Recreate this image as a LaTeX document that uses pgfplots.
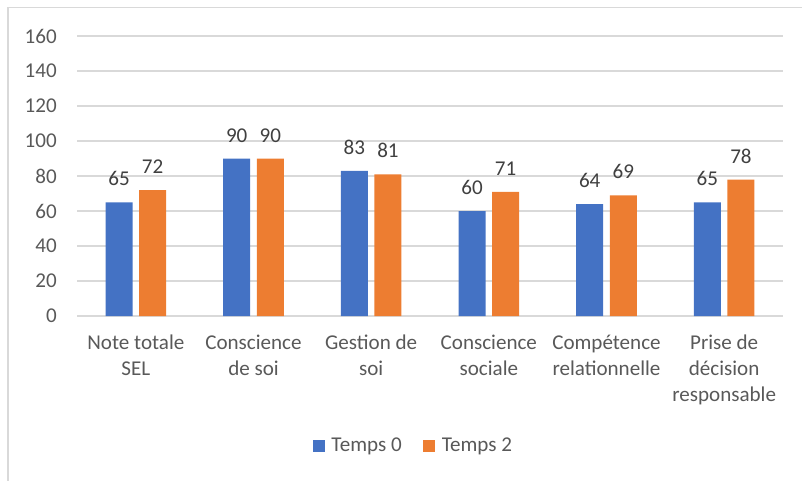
\documentclass[border=0pt]{standalone}
\usepackage{pgfplots}
\pgfplotsset{compat=1.18}
\usepackage{fontspec}
\setmainfont{Carlito}
\definecolor{cblue}{HTML}{4472C4}
\definecolor{corange}{HTML}{ED7D31}
\definecolor{ctext}{HTML}{595959}
\definecolor{clabel}{HTML}{404040}
\definecolor{cgrid}{HTML}{D9D9D9}
\begin{document}
\begin{tikzpicture}
\useasboundingbox (0,0) rectangle (601.5pt,360pt);
\draw[cgrid, line width=1.1pt] (6pt,-2pt) -- (6pt,354.5pt) -- (605pt,354.5pt);
\begin{axis}[
  at={(57.75pt,123pt)}, anchor=south west,
  scale only axis, width=529.5pt, height=210pt,
  ybar=4.9pt, bar width=20.25pt,
  xmin=-0.5, xmax=5.5, ymin=0, ymax=160,
  ytick={0,20,...,160},
  xtick={0,...,5},
  xticklabels={{Note totale\\SEL},{Conscience\\de soi},{Gestion de\\soi},{Conscience\\sociale},{Compétence\\relationnelle},{Prise de\\décision\\responsable}},
  major tick length=0pt,
  axis line style={draw=none},
  ymajorgrids, grid style={cgrid, line width=1.1pt},
  /pgf/number format/assume math mode=true,
  tick label style={font=\fontsize{15.8}{19.5}\selectfont, text=ctext},
  yticklabel style={inner sep=0pt, xshift=-15pt},
  xticklabel style={align=center, inner sep=0pt, yshift=-14pt},
  nodes near coords,
  every node near coord/.append style={font=\fontsize{15.8}{19.5}\selectfont, text=clabel, inner sep=0pt, yshift=12pt},
  legend style={at={(0.477,-0.464)}, anchor=center, draw=none, legend columns=2,
    font=\fontsize{15.8}{19.5}\selectfont, text=ctext,
    /tikz/every odd column/.append style={column sep=3pt},
    /tikz/every even column/.append style={column sep=14pt}},
  legend image code/.code={\fill[#1] (0pt,-4.5pt) rectangle (9pt,4.5pt);},
]
\addplot[fill=cblue, draw=none] coordinates {(0,65) (1,90) (2,83) (3,60) (4,64) (5,65)};
\addplot[fill=corange, draw=none] coordinates {(0,72) (1,90) (2,81) (3,71) (4,69) (5,78)};
\legend{Temps 0, Temps 2}
\end{axis}
\end{tikzpicture}
\end{document}
